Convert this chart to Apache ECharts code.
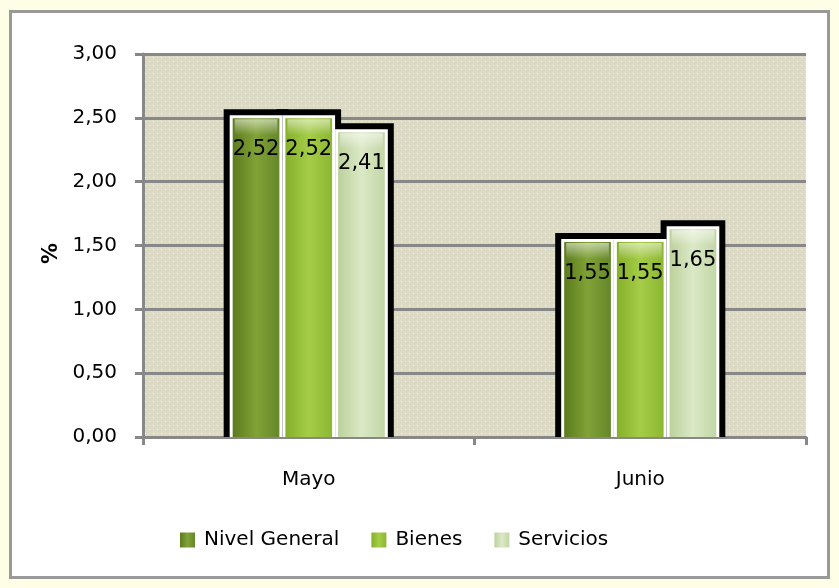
<!DOCTYPE html>
<html>
<head>
<meta charset="utf-8">
<script src="https://cdn.jsdelivr.net/npm/echarts@6/dist/echarts.min.js"></script>
<style>
  html, body { margin: 0; padding: 0; background: #fefee6; }
  .wrap { position: relative; width: 839px; height: 588px; }
  .frame { position: absolute; left: 9px; top: 10px; width: 815px; height: 563px; background: #fff; border: 3px solid #999; }
  #chart { position: absolute; left: 0; top: 0; width: 839px; height: 588px; }
</style>
</head>
<body>
<div class="wrap">
  <div class="frame"></div>
  <div id="chart"></div>
</div>
<script>
const categories = ['Mayo', 'Junio']
const seriesNames = ['Nivel General', 'Bienes', 'Servicios']
const nivelGeneral = [2.52, 1.55]
const bienes = [2.52, 1.55]
const servicios = [2.41, 1.65]
const yTicks = [0, 0.5, 1, 1.5, 2, 2.5, 3]

const values = [nivelGeneral, bienes, servicios]
const palettes = [
  ['#5c7b1d', '#80a236', '#66872a'],
  ['#86b02a', '#a5cd47', '#8db632'],
  ['#bcd19c', '#dbe9c6', '#c2d6a6'],
]
const FONT = 'DejaVu Sans'

function hgrad(p) {
  return new echarts.graphic.LinearGradient(0, 0, 1, 0, [
    { offset: 0, color: p[0] },
    { offset: 0.5, color: p[1] },
    { offset: 1, color: p[2] },
  ])
}

// light dotted pattern for plot area
function dotPattern() {
  const c = document.createElement('canvas')
  c.width = 8; c.height = 8
  const g = c.getContext('2d')
  g.fillStyle = '#dcd9c4'
  g.fillRect(0, 0, 8, 8)
  g.fillStyle = 'rgba(255,255,255,0.7)'
  g.fillRect(1, 1, 1, 1)
  g.fillRect(5, 5, 1, 1)
  g.fillStyle = 'rgba(255,255,255,0.3)'
  g.fillRect(5, 1, 1, 1)
  g.fillRect(1, 5, 1, 1)
  return c
}

// bar geometry from the axes
function barBox(si, api) {
  const idx = api.value(0)
  const val = api.value(1)
  const catW = api.size([1, 0])[0]
  const bw = catW * 0.159
  const base = api.coord([idx, 0])
  const top = api.coord([idx, val])[1]
  return { x0: base[0] - 1.5 * bw + si * bw, top, bw, h: base[1] - top, val }
}

// black outline drawn under all bars
function renderOutline(si) {
  return function (params, api) {
    const b = barBox(si, api)
    return { type: 'rect', shape: { x: b.x0 - 6, y: b.top - 6, width: b.bw + 12, height: b.h + 6 }, style: { fill: '#000' } }
  }
}

function renderBar(si) {
  return function (params, api) {
    const b = barBox(si, api)
    const p = palettes[si]
    return {
      type: 'group',
      children: [
        { type: 'rect', shape: { x: b.x0, y: b.top, width: b.bw, height: b.h }, style: { fill: '#fff' } },
        { type: 'rect', shape: { x: b.x0 + 3, y: b.top + 3, width: b.bw - 6, height: b.h - 3 }, style: { fill: hgrad(p) } },
        {
          type: 'rect',
          shape: { x: b.x0 + 5, y: b.top + 4, width: b.bw - 10, height: 16 },
          style: {
            fill: new echarts.graphic.LinearGradient(0, 0, 0, 1, [
              { offset: 0, color: 'rgba(255,255,255,0.55)' },
              { offset: 1, color: 'rgba(255,255,255,0)' },
            ]),
          },
        },
        {
          type: 'text',
          style: {
            x: b.x0 + b.bw / 2,
            y: b.top + 34,
            text: b.val.toFixed(2).replace('.', ','),
            fill: '#000',
            font: '21px ' + FONT,
            align: 'center',
            verticalAlign: 'middle',
          },
        },
      ],
    }
  }
}

const chart = echarts.init(document.getElementById('chart'))
chart.setOption({
  animation: false,
  backgroundColor: 'transparent',
  textStyle: { fontFamily: FONT },
  grid: {
    left: 143, right: 33, top: 54, bottom: 151,
    show: true,
    backgroundColor: { image: dotPattern(), repeat: 'repeat' },
    borderWidth: 0,
  },
  legend: {
    data: seriesNames,
    left: 175,
    top: 525,
    icon: 'rect',
    itemWidth: 15,
    itemHeight: 15,
    itemGap: 32,
    textStyle: { fontSize: 20, color: '#000', fontFamily: FONT, padding: [0, 0, 0, 4] },
  },
  xAxis: {
    type: 'category',
    data: categories,
    axisLine: { lineStyle: { color: '#888', width: 3 } },
    axisTick: { show: true, length: 8, lineStyle: { color: '#888', width: 3 } },
    axisLabel: { color: '#000', fontSize: 20, margin: 33 },
  },
  yAxis: {
    type: 'value',
    min: yTicks[0],
    max: yTicks[yTicks.length - 1],
    interval: 0.5,
    name: '%',
    nameLocation: 'middle',
    nameRotate: 90,
    nameGap: 74,
    nameTextStyle: { fontSize: 21, fontWeight: 'bold', color: '#000', padding: [0, 16, 0, 0] },
    axisLine: { show: true, lineStyle: { color: '#888', width: 3 } },
    axisTick: { show: true, length: 8, lineStyle: { color: '#888', width: 3 } },
    splitLine: { lineStyle: { color: '#888', width: 3 } },
    axisLabel: {
      color: '#000', fontSize: 20, margin: 26,
      formatter: v => v.toFixed(2).replace('.', ','),
    },
  },
  series: [
    ...seriesNames.map((name, si) => ({
      name: 'outline' + si,
      type: 'custom',
      renderItem: renderOutline(si),
      encode: { x: 0, y: 1 },
      data: categories.map((c, i) => [i, values[si][i]]),
      silent: true,
      z: 1,
    })),
    ...seriesNames.map((name, si) => ({
      name,
      type: 'custom',
      renderItem: renderBar(si),
      itemStyle: { color: hgrad(palettes[si]) },
      encode: { x: 0, y: 1 },
      data: categories.map((c, i) => [i, values[si][i]]),
      z: 2 + si,
    })),
  ],
})
</script>
</body>
</html>
